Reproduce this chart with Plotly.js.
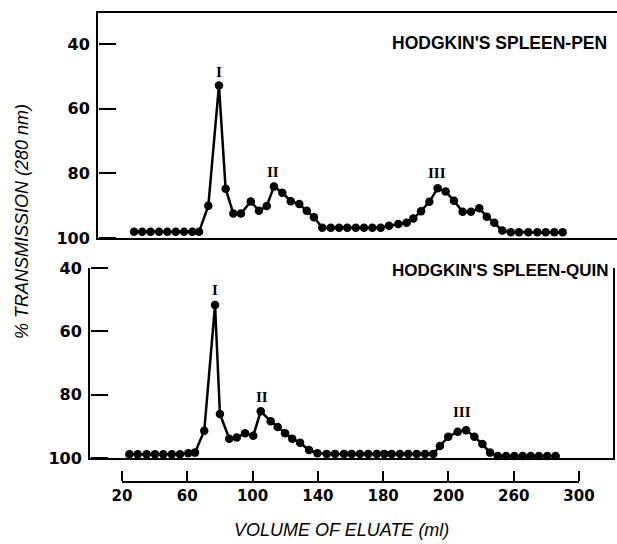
<!DOCTYPE html>
<html>
<head>
<meta charset="utf-8">
<script src="https://cdn.plot.ly/plotly-3.0.1.min.js"></script>
<style>html,body{margin:0;padding:0;background:#fff;}#chart{width:617px;height:544px;}</style>
</head>
<body>
<div id="chart"></div>
<script>
// Top panel: Hodgkin's spleen - PEN
var volPen = [27.4,32.4,37.5,42.7,47.8,52.9,58.0,63.1,67.2,72.9,79.4,83.5,88.2,92.9,98.9,103.9,108.7,113.1,118.2,123.4,128.6,133.2,137.6,142.7,147.9,153.0,158.0,163.2,168.3,173.4,178.5,183.6,189.3,194.4,198.5,203.2,208.3,213.4,218.3,223.4,228.7,233.8,238.9,243.5,248.1,253.0,258.2,263.2,268.9,274.5,279.6,284.9,290.0];
var transPen = [98.1,98.1,98.1,98.1,98.1,98.1,98.1,98.1,98.1,90.0,52.8,84.8,92.4,92.4,88.7,91.6,90.1,84.1,86.0,88.6,89.5,91.6,93.6,96.8,96.8,96.8,96.8,96.8,96.8,96.8,96.8,96.2,95.7,95.3,94.0,91.7,88.8,84.6,85.6,88.5,91.9,91.9,90.8,93.4,95.3,97.7,98.2,98.2,98.2,98.2,98.2,98.2,98.2];

// Bottom panel: Hodgkin's spleen - QUIN
var volQuin = [24.5,29.6,35.1,40.2,45.3,50.5,55.5,60.6,64.7,70.4,77.0,80.0,85.7,90.3,95.4,100.4,105.0,111.1,115.4,119.9,124.3,129.1,134.6,139.7,145.4,150.5,156.0,160.7,165.8,170.9,176.1,180.7,185.2,190.3,195.4,200.6,205.7,210.7,214.8,219.9,225.7,230.8,235.9,240.8,245.5,250.2,255.3,260.4,265.5,270.4,275.4,280.6,285.7];
var transQuin = [98.8,98.8,98.8,98.8,98.8,98.8,98.8,98.5,98.3,91.4,51.7,86.1,93.9,93.5,92.2,93.0,85.2,88.4,90.2,92.2,93.9,95.2,97.5,98.5,98.7,98.7,98.7,98.7,98.7,98.7,98.7,98.7,98.7,98.7,98.7,98.7,98.7,98.7,96.2,93.3,91.7,91.2,93.3,95.6,98.3,99.4,99.4,99.4,99.4,99.4,99.4,99.4,99.4];

// Axis ticks
var yTickVals = [40,60,80,100];
var yTickText = ["40","60","80","100"];
var xTickVals = [20,60,100,140,180,220,260,300];
var xTickText = ["20","60","100","140","180","200","260","300"];

// Peak labels
var peakNames = ["I","II","III"];
var peakPenX = [79.4,112.7,213.2];
var peakPenY = [48.6,79.5,79.8];
var peakQuinX = [77.0,106.0,228.1];
var peakQuinY = [46.9,80.8,85.4];

var panelTitles = ["HODGKIN'S SPLEEN-PEN","HODGKIN'S SPLEEN-QUIN"];

var W = 617, H = 544;
function fx(px){return px/W;}
function fy(py){return 1-py/H;}
function ml(px){return 20+(px-122)*280/457;}

var topRange = [100, 40-31/(194/60)];
var botRange = [100, 40];

function ghost(xa, ya){
  return {x:[null], y:[null], xaxis:xa, yaxis:ya, type:'scatter', mode:'markers',
    marker:{opacity:0, size:1}, hoverinfo:'skip', showlegend:false};
}

var traces = [
  {x:volPen, y:transPen, xaxis:'x', yaxis:'y', type:'scatter', mode:'lines+markers',
   marker:{color:'#000', size:8.5}, line:{color:'#000', width:2.5}, cliponaxis:false, hoverinfo:'skip'},
  {x:volQuin, y:transQuin, xaxis:'x2', yaxis:'y2', type:'scatter', mode:'lines+markers',
   marker:{color:'#000', size:8.5}, line:{color:'#000', width:2.5}, cliponaxis:false, hoverinfo:'skip'},
  {x:[20], y:[0], xaxis:'x3', yaxis:'y3', type:'scatter', mode:'markers',
   marker:{opacity:0, size:1}, hoverinfo:'skip'},
  ghost('x','y4'), ghost('x2','y5'), ghost('x4','y3')
];

function yLabelAxis(dom, rng, anchor, mirror){
  return {
    domain:dom, range:rng, anchor:anchor, mirror:mirror,
    tickmode:'array', tickvals:yTickVals, ticktext:yTickText,
    ticks:'', showline:true, linecolor:'black', linewidth:2,
    showgrid:false, zeroline:false, ticklabelstandoff:3,
    tickfont:{family:'DejaVu Sans', size:16, color:'#000', weight:'bold'}
  };
}
// tick-mark-only axes sitting on the left axis line, ticks pointing into the panel
function yTickAxis(over, rng, pos){
  return {
    overlaying:over, side:'right', anchor:'free', position:pos, range:rng,
    tickmode:'array', tickvals:yTickVals, showticklabels:false,
    ticks:'outside', ticklen:17, tickwidth:2, tickcolor:'black',
    showline:false, showgrid:false, zeroline:false
  };
}

var annots = [];
peakNames.forEach(function(n,i){
  annots.push({x:peakPenX[i], y:peakPenY[i], xref:'x', yref:'y', text:n, showarrow:false,
    font:{family:'Liberation Serif', size:15, color:'#000', weight:'bold'}});
  annots.push({x:peakQuinX[i], y:peakQuinY[i], xref:'x2', yref:'y2', text:n, showarrow:false,
    font:{family:'Liberation Serif', size:15, color:'#000', weight:'bold'}});
});
annots.push({x:fx(390), y:fy(43), xref:'paper', yref:'paper', xanchor:'left', yanchor:'middle',
  text:panelTitles[0], showarrow:false, font:{family:'Liberation Sans', size:17.5, color:'#000', weight:'bold'}});
annots.push({x:fx(390), y:fy(270), xref:'paper', yref:'paper', xanchor:'left', yanchor:'middle',
  text:panelTitles[1], showarrow:false, font:{family:'Liberation Sans', size:17, color:'#000', weight:'bold'}});
annots.push({x:fx(22), y:fy(222), xref:'paper', yref:'paper', xanchor:'center', yanchor:'middle',
  textangle:-90, text:'% TRANSMISSION (280 nm)', showarrow:false,
  font:{family:'Liberation Sans', size:18, color:'#000', style:'italic'}});
annots.push({x:fx(341), y:fy(530), xref:'paper', yref:'paper', xanchor:'center', yanchor:'middle',
  text:'VOLUME OF ELUATE (ml)', showarrow:false,
  font:{family:'Liberation Sans', size:18, color:'#000', style:'italic'}});

var layout = {
  width:W, height:H,
  margin:{l:0,r:0,t:0,b:0},
  paper_bgcolor:'#fff', plot_bgcolor:'rgba(0,0,0,0)',
  showlegend:false,
  xaxis:{domain:[fx(98),1], range:[ml(98),ml(617)], anchor:'y',
    showline:true, mirror:true, linecolor:'black', linewidth:2,
    showticklabels:false, ticks:'', showgrid:false, zeroline:false},
  yaxis:yLabelAxis([fy(238),fy(13)], topRange, 'x', false),
  yaxis4:yTickAxis('y', topRange, fx(98)),
  xaxis2:{domain:[fx(90),fx(613)], range:[ml(90),ml(613)], anchor:'y2',
    showline:true, linecolor:'black', linewidth:2,
    showticklabels:false, ticks:'', showgrid:false, zeroline:false},
  yaxis2:yLabelAxis([fy(458),fy(268)], botRange, 'x2', true),
  yaxis5:yTickAxis('y2', botRange, fx(90)),
  xaxis3:{domain:[fx(122),fx(579)], range:[20,300], anchor:'y3',
    tickmode:'array', tickvals:xTickVals, ticktext:xTickText,
    ticks:'', showline:true, linecolor:'black', linewidth:2,
    showgrid:false, zeroline:false,
    tickfont:{family:'DejaVu Sans', size:15, color:'#000', weight:'bold'}},
  xaxis4:{overlaying:'x3', side:'top', anchor:'free', position:fy(481), range:[20,300],
    tickmode:'array', tickvals:xTickVals, showticklabels:false,
    ticks:'outside', ticklen:10, tickwidth:2, tickcolor:'black',
    showline:false, showgrid:false, zeroline:false},
  yaxis3:{domain:[fy(481),fy(470)], range:[0,1], anchor:'x3', visible:false,
    showgrid:false, zeroline:false},
  annotations:annots
};

Plotly.newPlot('chart', traces, layout, {displayModeBar:false});
</script>
</body>
</html>
